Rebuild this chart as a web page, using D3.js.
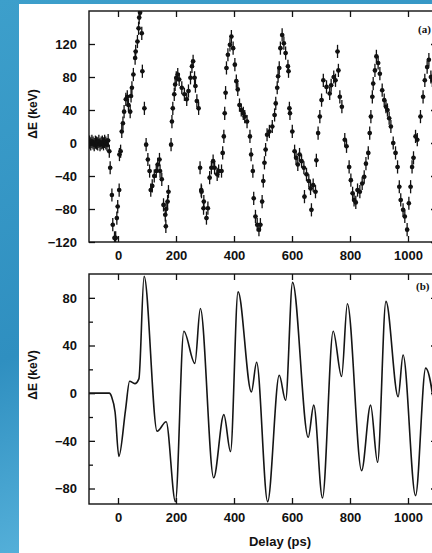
<!DOCTYPE html>
<html>
<head>
<meta charset="utf-8">
<script src="https://cdn.jsdelivr.net/npm/d3@7"></script>
<style>
  body { margin: 0; background: #fff; }
  svg text { font-family: "Liberation Sans", Arial, sans-serif; font-weight: bold; fill: #111; }
</style>
</head>
<body>
<div id="chart"></div>
<script>
// panel (a): measured points
const delayA = [-98,-94,-90,-86,-82,-78,-74,-70,-66,-62,-58,-54,-50,-46,-42,-38,-34,
  -30,-27,-21,-18,-12,-8,-4,-1,4,5,9,13,17,21,27,32,36,42,45,48,53,59,61,67,71,73,76,82,84,91,97,
  103,109,113,118,125,132,137,143,145,151,157,163,165,166,171,174,183,186,189,194,197,201,206,211,
  220,229,237,243,250,255,259,264,267,272,278,283,287,288,295,296,305,310,316,322,328,333,342,347,
  357,361,365,368,371,374,379,386,391,397,403,408,413,419,425,432,437,445,455,459,465,468,474,480,
  486,491,497,501,505,509,514,522,532,540,544,549,552,556,560,566,572,578,586,588,591,593,601,609,
  614,620,626,633,641,643,650,658,664,667,673,681,684,690,696,702,708,719,730,735,744,750,757,760,
  765,772,782,788,797,803,809,814,820,826,834,842,849,855,863,868,872,877,880,886,891,897,903,911,
  918,924,929,935,941,949,957,964,970,975,983,989,997,1003,1009,1014,1019,1026,1032,1043,1052,1058,
  1066,1072,1079,1084];
const deltaEA = [1,-1,2,0,-2,1,0,-1,2,-2,0,1,-1,2,0,-2,3,
  -10,-30,-63,-99,-115,-115,-91,-77,-57,-14,-10,14,24,38,53,56,46,38,57,67,83,103,111,123,139,152,158,133,87,42,-2,
  -20,-34,-57,-52,-40,-34,-26,-20,-34,-44,-75,-87,-101,-80,-71,-59,-2,26,42,59,71,79,83,77,
  67,59,53,63,79,93,99,79,69,51,42,-30,-57,-59,-79,-71,-91,-79,-42,-30,-22,-30,-38,-34,
  -34,-12,8,36,61,91,107,119,129,115,95,75,65,46,40,36,32,26,8,-14,-34,-67,-89,-99,
  -105,-99,-71,-46,-24,-8,10,14,20,34,48,67,81,91,115,131,121,109,93,87,42,36,14,-10,
  -18,-26,-14,-22,-30,-65,-38,-46,-55,-81,-51,-59,-21,12,32,52,76,68,60,70,80,76,111,88,
  56,44,4,-4,-29,-45,-61,-69,-72,-57,-59,-49,-41,-25,-12,12,32,56,72,88,105,97,84,64,
  52,44,40,30,20,0,-12,-29,-53,-69,-81,-89,-105,-73,-53,-29,-18,8,4,32,56,76,
  92,101,80,76];

// panel (b): calculated curve
const delayB = [-100,-30,-22,-10,3,26,40,58,72,90,135,166,198,227,265,284,330,365,388,414,460,478,
  516,556,578,602,656,675,705,742,771,791,840,871,895,924,966,983,1026,1061,1100];
const deltaEB = [0,0,-3,-16,-53,-14,10,8,12,98,-32,-24,-91,52,25,71,-71,-18,-49,85,1,26,
  -91,15,-6,93,-37,-10,-88,52,14,75,-65,-10,-58,77,-3,32,-86,21,-28];

const xTicks = [0, 200, 400, 600, 800, 1000];
const yTicksA = [-120, -80, -40, 0, 40, 80, 120];
const yTicksB = [-80, -40, 0, 40, 80];
const yMinorB = [-60, -20, 20, 60];

const W = 432, H = 553;
const svg = d3.select("#chart").append("svg")
  .attr("width", W).attr("height", H);

// blue slide background
const grad = svg.append("defs").append("linearGradient")
  .attr("id", "bg").attr("x1", 0).attr("y1", 0).attr("x2", 0.3).attr("y2", 1);
grad.append("stop").attr("offset", 0).attr("stop-color", "#3d9fcb");
grad.append("stop").attr("offset", 0.6).attr("stop-color", "#2f8fc0");
grad.append("stop").attr("offset", 1).attr("stop-color", "#5cb6de");
svg.append("rect").attr("width", W).attr("height", H).attr("fill", "url(#bg)");
svg.append("rect").attr("x", 19).attr("y", 4).attr("width", W - 19).attr("height", H - 4)
  .attr("fill", "#fff");

const x = d3.scaleLinear().domain([-100, 1100]).range([89, 437]);
const yA = d3.scaleLinear().domain([-120, 160]).range([242, 11]);
const yB = d3.scaleLinear().domain([-93, 100]).range([504, 274]);

function frame(y, name) {
  const [b, t] = y.range();
  svg.append("clipPath").attr("id", "clip" + name).append("rect")
    .attr("x", x.range()[0]).attr("y", t)
    .attr("width", x.range()[1] - x.range()[0]).attr("height", b - t);
  svg.append("rect")
    .attr("x", x.range()[0]).attr("y", t)
    .attr("width", x.range()[1] - x.range()[0]).attr("height", b - t)
    .attr("fill", "none").attr("stroke", "#111").attr("stroke-width", 1.4);
}

function axes(y, yTicks, yMinor) {
  const [b, t] = y.range();
  const style = g => {
    g.select(".domain").remove();
    g.selectAll("line").attr("stroke", "#111").attr("stroke-width", 1.3);
    g.selectAll("text").style("font-size", "13px");
  };
  svg.append("g").attr("transform", `translate(0,${b})`)
    .call(d3.axisBottom(x).tickValues(xTicks).tickSize(-6).tickPadding(9)
      .tickFormat(d3.format("d"))).call(style);
  svg.append("g").attr("transform", `translate(0,${t})`)
    .call(d3.axisTop(x).tickValues(xTicks).tickSize(-6).tickFormat("")).call(style);
  svg.append("g").attr("transform", `translate(${x.range()[0]},0)`)
    .call(d3.axisLeft(y).tickValues(yTicks).tickSize(-6).tickPadding(12)
      .tickFormat(d => d < 0 ? "\u2212" + Math.abs(d) : d)).call(style);
  svg.append("g").attr("transform", `translate(${x.range()[1]},0)`)
    .call(d3.axisRight(y).tickValues(yTicks).tickSize(-6).tickFormat("")).call(style);
  if (yMinor) {
    svg.append("g").attr("transform", `translate(${x.range()[0]},0)`)
      .call(d3.axisLeft(y).tickValues(yMinor).tickSize(-4).tickFormat("")).call(style);
    svg.append("g").attr("transform", `translate(${x.range()[1]},0)`)
      .call(d3.axisRight(y).tickValues(yMinor).tickSize(-4).tickFormat("")).call(style);
  }
}

// panel (a)
frame(yA, "A");
axes(yA, yTicksA, null);
const pts = delayA.map((d, i) => [d, deltaEA[i]]);
const gA = svg.append("g").attr("clip-path", "url(#clipA)");
gA.selectAll(".ev").data(pts).enter().append("line")
  .attr("x1", d => x(d[0])).attr("x2", d => x(d[0]))
  .attr("y1", d => yA(d[1] - 8)).attr("y2", d => yA(d[1] + 8))
  .attr("stroke", "#111").attr("stroke-width", 1.3);
gA.selectAll(".eh").data(pts).enter().append("line")
  .attr("x1", d => x(d[0] - 7)).attr("x2", d => x(d[0] + 7))
  .attr("y1", d => yA(d[1])).attr("y2", d => yA(d[1]))
  .attr("stroke", "#111").attr("stroke-width", 1.3);
gA.selectAll("circle").data(pts).enter().append("circle")
  .attr("cx", d => x(d[0])).attr("cy", d => yA(d[1])).attr("r", 2.3)
  .attr("fill", "#111");

// panel (b)
frame(yB, "B");
axes(yB, yTicksB, yMinorB);
const line = d3.line().x(d => x(d[0])).y(d => yB(d[1])).curve(d3.curveMonotoneX);
svg.append("path").attr("clip-path", "url(#clipB)")
  .datum(delayB.map((d, i) => [d, deltaEB[i]]))
  .attr("fill", "none").attr("stroke", "#151515").attr("stroke-width", 1.6)
  .attr("d", line);

// labels
svg.append("text").attr("transform", "translate(37,114) rotate(-90)")
  .attr("text-anchor", "middle").style("font-size", "12px").text("\u0394E (keV)");
svg.append("text").attr("transform", "translate(37,375) rotate(-90)")
  .attr("text-anchor", "middle").style("font-size", "12px").text("\u0394E (keV)");
svg.append("text").attr("x", 280).attr("y", 546).attr("text-anchor", "middle")
  .style("font-size", "13px").text("Delay  (ps)");
svg.append("text").attr("x", 418).attr("y", 33).style("font-size", "11px")
  .style("font-family", "Liberation Serif, serif").text("(a)");
svg.append("text").attr("x", 416).attr("y", 290).style("font-size", "11px")
  .style("font-family", "Liberation Serif, serif").text("(b)");
</script>
</body>
</html>
